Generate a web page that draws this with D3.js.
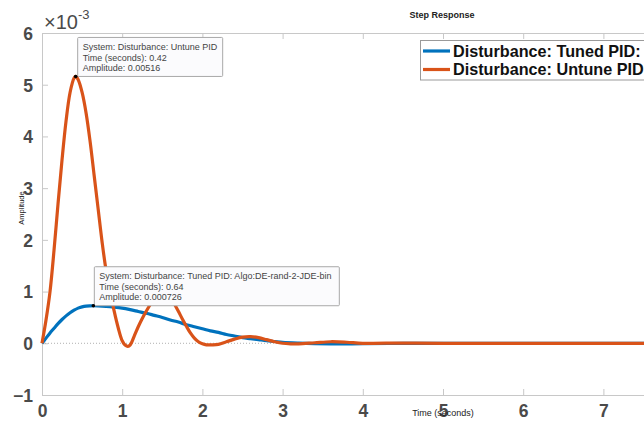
<!DOCTYPE html>
<html>
<head>
<meta charset="utf-8">
<script src="https://cdn.jsdelivr.net/npm/d3@7"></script>
<style>
  html, body { margin: 0; padding: 0; background: #fff; }
  svg { display: block; font-family: "Liberation Sans", Arial, sans-serif; }
</style>
</head>
<body>
<svg id="chart" width="644" height="423"></svg>
<script>
// Step response of the disturbance path, amplitudes in units of 1e-3
const timeTuned = [0, 0.05, 0.1, 0.15, 0.2, 0.25, 0.3, 0.35, 0.4, 0.45, 0.5, 0.55, 0.6, 0.64, 0.7, 0.8, 0.9, 1.0,
  1.1, 1.2, 1.3, 1.4, 1.5, 1.6, 1.7, 1.8, 1.9, 2.0, 2.1, 2.2, 2.3, 2.4, 2.5, 2.6, 2.7, 2.8, 2.9, 3.0,
  3.2, 3.4, 3.6, 3.8, 4.0, 4.5, 5.0, 6.0, 7.0, 8.0];
const ampTuned = [0, 0.1, 0.2, 0.29, 0.38, 0.46, 0.53, 0.59, 0.64, 0.68, 0.705, 0.72, 0.725, 0.726, 0.724, 0.715, 0.7, 0.68,
  0.65, 0.615, 0.58, 0.54, 0.5, 0.45, 0.41, 0.36, 0.32, 0.28, 0.24, 0.21, 0.17, 0.14, 0.11, 0.09, 0.07, 0.05, 0.035, 0.02,
  0.005, -0.005, -0.01, -0.01, -0.008, -0.003, 0, 0, 0, 0];

const timeUntuned = [0, 0.05, 0.1, 0.15, 0.2, 0.25, 0.3, 0.35, 0.4, 0.42, 0.45, 0.5, 0.55, 0.6, 0.65, 0.7, 0.75, 0.8,
  0.85, 0.9, 0.95, 1.0, 1.04, 1.07, 1.1, 1.15, 1.2, 1.25, 1.3, 1.35, 1.4, 1.45, 1.5, 1.55, 1.6, 1.65, 1.7, 1.75, 1.8,
  1.85, 1.9, 1.95, 2.0, 2.05, 2.12, 2.2, 2.3, 2.4, 2.5, 2.6, 2.7, 2.8, 2.9, 3.0, 3.1, 3.2, 3.4, 3.6, 3.8, 4.0,
  4.5, 5.0, 6.0, 7.0, 8.0];
const ampUntuned = [0, 0.45, 1.0, 1.8, 2.7, 3.55, 4.3, 4.85, 5.13, 5.16, 5.1, 4.85, 4.45, 3.9, 3.25, 2.6, 1.95, 1.4,
  1.0, 0.62, 0.3, 0.05, -0.04, -0.06, -0.03, 0.14, 0.32, 0.48, 0.62, 0.75, 0.87, 0.96, 0.99, 0.96, 0.88, 0.76, 0.62, 0.47, 0.33,
  0.2, 0.1, 0.03, -0.01, -0.03, -0.03, -0.02, 0.03, 0.08, 0.12, 0.13, 0.11, 0.07, 0.03, 0.0, -0.01, -0.01, 0.01, 0.03, 0.02, 0.0,
  0.005, 0, 0, 0, 0];

const seriesNames = ["Disturbance: Tuned PID:", "Disturbance: Untune PID"];
const seriesColors = ["#0072BD", "#D95319"];
const xTicks = [0, 1, 2, 3, 4, 5, 6, 7];
const yTicks = [-1, 0, 1, 2, 3, 4, 5, 6];

// Data tips: time, amplitude (1e-3) and the text lines shown
const tipUntuned = { t: 0.42, a: 5.16, lines: ["System: Disturbance: Untune PID", "Time (seconds): 0.42", "Amplitude: 0.00516"] };
const tipTuned = { t: 0.64, a: 0.726, lines: ["System: Disturbance: Tuned PID: Algo:DE-rand-2-JDE-bin", "Time (seconds): 0.64", "Amplitude: 0.000726"] };

const svg = d3.select("#chart");
const plotLeft = 42, plotTop = 33, plotBottom = 395;
const x = d3.scaleLinear().domain([0, 8]).range([plotLeft, plotLeft + 8 * 80.2]);
const y = d3.scaleLinear().domain([-1, 6]).range([plotBottom, plotTop]);
const plotRight = x(8);

const axisColor = "#c8c8c8";
const tickText = "#4a4a4a";

// bottom axis
const gx = svg.append("g").attr("transform", `translate(0,${plotBottom})`)
  .call(d3.axisBottom(x).tickValues(xTicks).tickSize(-6).tickPadding(9).tickFormat(d3.format("d")));
// top axis (box edge, ticks only)
const gxt = svg.append("g").attr("transform", `translate(0,${plotTop})`)
  .call(d3.axisTop(x).tickValues(xTicks).tickSize(-6).tickFormat(""));
// left axis
const gy = svg.append("g").attr("transform", `translate(${plotLeft},0)`)
  .call(d3.axisLeft(y).tickValues(yTicks).tickSize(-6).tickPadding(9).tickFormat(d3.format("d")));

[gx, gxt, gy].forEach(g => {
  g.select(".domain").attr("stroke", axisColor).attr("stroke-width", 1);
  g.selectAll(".tick line").attr("stroke", axisColor);
  g.selectAll(".tick text").attr("fill", tickText).attr("font-size", 17.5).attr("font-weight", "bold")
    .attr("font-family", "Liberation Sans, Arial, sans-serif");
});
gx.selectAll(".tick text").attr("dy", "0.72em");
gy.selectAll(".tick text").attr("dy", "0.36em");

// exponent label
const expo = svg.append("text").attr("x", 44).attr("y", 29).attr("fill", tickText)
  .attr("font-size", 20).attr("font-family", "Liberation Sans, Arial, sans-serif");
expo.append("tspan").text("\u00d710");
expo.append("tspan").attr("dy", -10).attr("font-size", 13).text("-3");

// title and axis labels
svg.append("text").attr("x", 442).attr("y", 18).attr("text-anchor", "middle")
  .attr("font-size", 9).attr("font-weight", "bold").attr("fill", "#222").text("Step Response");
svg.append("text").attr("transform", "translate(24,208) rotate(-90)").attr("text-anchor", "middle")
  .attr("font-size", 7.5).attr("fill", "#222").text("Amplitude");

// zero reference line
svg.append("line").attr("x1", plotLeft).attr("x2", plotRight).attr("y1", y(0)).attr("y2", y(0))
  .attr("stroke", "#b0b0b0").attr("stroke-width", 1).attr("stroke-dasharray", "1,2");

// response curves
const line = d3.line().x(d => x(d[0])).y(d => y(d[1])).curve(d3.curveCatmullRom.alpha(0.5));
const tuned = timeTuned.map((t, i) => [t, ampTuned[i]]);
const untuned = timeUntuned.map((t, i) => [t, ampUntuned[i]]);
[tuned, untuned].forEach((data, i) => {
  svg.append("path").datum(data).attr("d", line).attr("fill", "none")
    .attr("stroke", seriesColors[i]).attr("stroke-width", 3.2).attr("stroke-linejoin", "round");
});

svg.append("text").attr("x", 443).attr("y", 416).attr("text-anchor", "middle")
  .attr("font-size", 9).attr("fill", "#222").text("Time (seconds)");

// data tips
function dataTip(tip, width, height, dx, lineGap) {
  const px = x(tip.t), py = y(tip.a);
  const g = svg.append("g");
  g.append("rect").attr("x", px + dx).attr("y", py - height).attr("width", width).attr("height", height)
    .attr("fill", "#fbfbfd").attr("stroke", "#a8a8a8").attr("stroke-width", 1).attr("rx", 1);
  tip.lines.forEach((s, i) => {
    g.append("text").attr("x", px + dx + 5).attr("y", py - height + 12.5 + i * lineGap)
      .attr("font-size", 9).attr("fill", "#444").text(s);
  });
  svg.append("circle").attr("cx", px).attr("cy", py).attr("r", 1.8).attr("fill", "#000");
}
dataTip(tipUntuned, 145, 39, 2, 10.6);
dataTip(tipTuned, 245, 39, 1, 10.6);

// legend
const lg = svg.append("g");
lg.append("rect").attr("x", 420.5).attr("y", 40.5).attr("width", 300).attr("height", 39.5)
  .attr("fill", "#fff").attr("stroke", "#9a9a9a").attr("stroke-width", 1);
seriesNames.forEach((name, i) => {
  const ly = 51 + i * 18.5;
  lg.append("line").attr("x1", 423).attr("x2", 450).attr("y1", ly).attr("y2", ly)
    .attr("stroke", seriesColors[i]).attr("stroke-width", 3.2);
  lg.append("text").attr("x", 453).attr("y", ly + 5.8).attr("font-size", 16.2).attr("font-weight", "bold")
    .attr("fill", "#111").text(name);
});
</script>
</body>
</html>
